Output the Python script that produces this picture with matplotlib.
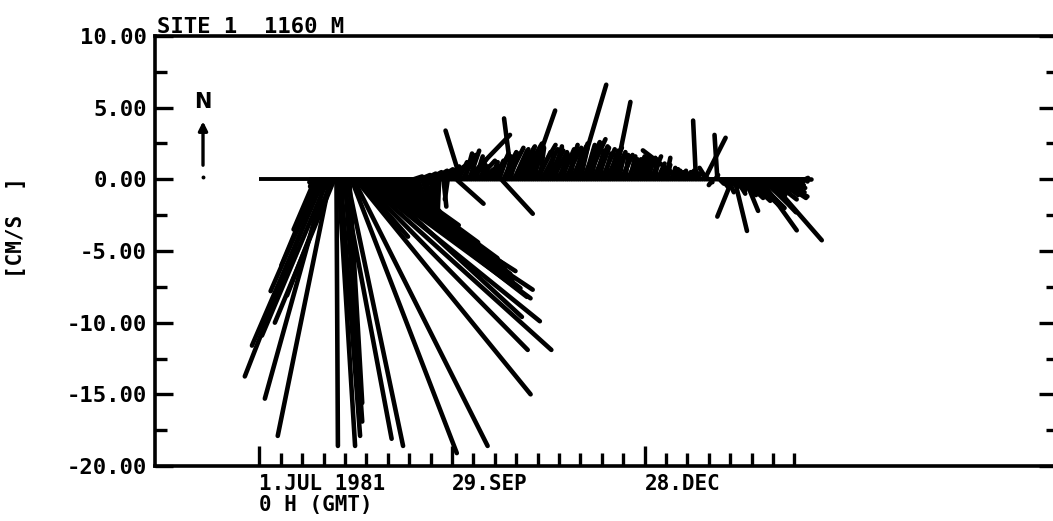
import numpy as np
import matplotlib
matplotlib.use("Agg")
import matplotlib.pyplot as plt
from matplotlib.collections import LineCollection
from matplotlib.ticker import FixedLocator, FixedFormatter, MultipleLocator

# Daily current vectors (cm/s), day 0 = 1 Jul 1981 0 H GMT
day = np.arange(258)

u_east = [
    0.0, 0.0, 0.0, 0.0, 0.0, 0.0, 0.0, 0.0, 0.0, 0.0,
    0.0, 0.0, 0.0, 0.0, 0.0, 0.0, 0.0, 0.0, 0.0, 0.0,
    0.0, 0.0, 0.0, 0.0, -0.1, -0.2, -1.5, -2.5, -3.4, -5.35,
    -5.0, -4.25, -4.6, -3.65, -3.15, -4.15, 0.1, 1.15, 1.35, 3.4,
    1.2, 3.9, 0.9, 7.35, 9.35, 12.2, 3.5, 11.7, 13.2, 12.25,
    11.6, 11.3, 10.1, 10.4, 10.6, 10.0, 9.3, 8.6, 9.0, 8.7,
    8.2, 7.5, 6.0, 4.5, 3.0, 2.2, 1.5, 2.0, 1.2, 1.5,
    0.8, 1.3, 0.6, 0.9, 0.5, 0.7, 0.6, 0.8, 0.4, 0.9,
    0.3, 1.0, 0.1, 1.1, -0.1, 1.2, 0.2, 1.3, -0.2, 1.2,
    0.5, 1.0, 1.9, 0.6, -1.05, 0.8, 0.5, 3.0, 0.7, 0.3,
    0.9, 0.5, 1.2, 0.4, 0.8, 0.3, 0.6, 0.9, 0.5, 1.0,
    0.6, 0.8, 0.5, 2.2, 0.9, 0.4, 1.1, 0.6, -0.55, 0.9,
    1.3, 0.7, 1.5, 0.8, 1.2, 0.5, 1.0, 1.67, 0.6, 1.4,
    0.9, 0.3, 1.1, 0.7, 1.2, 0.4, 0.8, 1.0, 0.5, 1.3,
    0.6, 0.9, 0.3, 1.1, 0.7, 0.4, 1.0, 0.6, 0.8, 1.95,
    0.5, 1.2, 0.7, 1.3, 0.9, 0.4, 1.0, 0.6, 0.8, 0.3,
    0.9, 0.5, 1.1, 0.7, 0.4, 0.9, 1.1, 0.6, 0.3, 0.8,
    0.5, 0.2, 0.7, 0.4, 0.9, 0.3, 0.6, 0.2, 0.5, 0.1,
    0.4, 0.6, 0.2, 0.7, 0.4, 0.1, 0.5, 0.3, 0.6, 0.2,
    0.3, 0.1, 0.5, 0.2, 0.4, 0.1, 0.3, -2.66, 0.2, 0.4,
    0.1, 0.3, 0.2, -0.2, -0.2, 0.1, -0.3, 0.2, 1.47, -0.5,
    -0.4, 0.1, -0.3, 0.2, -0.2, 0.3, 0.5, 0.2, 0.8, 0.4,
    1.0, -1.05, 0.87, 0.6, 1.2, 0.3, 1.4, 0.9, 1.6, 0.8,
    1.9, 1.2, 2.0, 1.4, 2.55, 1.7, 2.2, 1.3, 3.7, 1.8,
    2.4, 1.5, 2.0, 1.1, 1.6, 1.0, 0.7, 1.2, 0.5, 0.8,
    0.3, 0.5, 0.2, 0.3, 0.1, 0.2, 0.0, 0.1,
]

v_north = [
    0.0, 0.0, 0.0, 0.0, 0.0, 0.0, 0.0, 0.0, 0.0, 0.0,
    0.0, 0.0, 0.0, 0.0, 0.0, 0.0, 0.0, 0.0, 0.0, 0.0,
    0.0, 0.0, 0.0, 0.0, -0.2, -0.5, -3.5, -6.0, -7.8, -13.75,
    -11.6, -15.3, -10.9, -17.9, -8.1, -10.0, -18.6, -18.6, -17.9, -18.1,
    -16.9, -18.6, -15.6, -19.1, -18.6, -15.0, -4.0, -11.9, -11.9, -9.9,
    -7.7, -8.3, -6.4, -9.6, -8.2, -7.6, -6.9, -6.2, -7.0, -6.6,
    -6.0, -5.5, -4.4, -3.2, -2.2, -2.3, -2.0, -2.4, -1.8, -2.2,
    -1.5, -2.2, 0.2, -2.0, -1.4, 0.3, -1.8, 0.4, -2.1, 0.5,
    -2.3, 0.6, -2.2, 0.7, -2.3, 0.8, -1.9, 0.9, -1.4, 1.0,
    0.9, 1.1, -1.7, 1.2, 3.4, 1.5, 1.8, 3.1, 2.0, 1.7,
    1.4, 1.6, 1.3, 1.0, 0.7, 0.9, 0.5, 1.0, 1.2, 1.5,
    1.3, 1.8, 1.4, -2.4, 1.9, 1.6, 2.2, 1.8, 4.25, 2.0,
    2.3, 2.1, 2.5, 2.2, 2.0, 1.7, 2.3, 4.8, 2.0, 2.4,
    1.9, 2.2, 2.1, 1.6, 2.0, 1.8, 2.2, 1.9, 2.3, 2.0,
    1.7, 2.1, 1.8, 2.2, 2.4, 1.9, 2.3, 2.0, 2.5, 6.6,
    2.2, 2.6, 2.4, 2.8, 2.5, 2.1, 2.3, 2.0, 2.2, 1.9,
    2.1, 1.8, 2.2, 2.0, 1.7, 1.9, 5.4, 1.8, 1.5, 1.7,
    1.6, 1.7, 1.4, 1.6, 1.5, 1.3, 1.6, 1.4, 1.5, 1.2,
    1.5, 1.5, 1.3, 1.6, 1.2, 1.4, 1.1, 0.9, 1.0, 0.8,
    1.5, 0.9, 0.7, 0.8, 0.6, 0.7, 0.5, 2.02, 0.6, 0.5,
    0.4, 0.6, 0.3, 0.5, 4.1, 0.4, 0.6, 0.2, 2.9, 0.8,
    0.3, -0.2, -0.4, 0.3, 3.1, -0.3, -0.6, -0.2, -0.5, -0.9,
    -0.7, -2.6, -3.6, -1.0, -1.1, -0.8, -1.3, -2.2, -1.5, -0.9,
    -1.8, -1.2, -2.0, -1.7, -3.56, -1.6, -2.3, -1.1, -4.25, -1.4,
    -1.2, -1.0, -1.3, -0.7, -0.9, -1.1, -0.5, -0.6, -0.3, -0.4,
    -0.2, -0.1, -0.2, 0.0, -0.1, 0.1, -0.1, 0.0,
]

xtick_days = list(range(0, 251, 10))
xmajor_days = [0, 90, 180]
xmajor_labels = ["1.JUL 1981\n0 H (GMT)", "29.SEP", "28.DEC"]
ytick_values = [10, 5, 0, -5, -10, -15, -20]
ytick_labels = ["10.00", "5.00", "0.00", "-5.00", "-10.00", "-15.00", "-20.00"]

plt.rcParams["font.family"] = ["DejaVu Sans Mono"]
plt.rcParams["font.weight"] = "bold"

W, H = 1053, 521
fig = plt.figure(figsize=(W / 100, H / 100), dpi=100)
left_px, right_px, top_px, bottom_px = 155, 1054, 36, 466
ax = fig.add_axes([left_px / W, 1 - bottom_px / H,
                   (right_px - left_px) / W, (bottom_px - top_px) / H])
ax.set_xlim(-48.8, 371.3)
ax.set_ylim(-20, 10)

# equal pixel scale for both vector components
fig.canvas.draw()
bbox = ax.get_window_extent()
px_per_day = bbox.width / (ax.get_xlim()[1] - ax.get_xlim()[0])
px_per_unit = bbox.height / (ax.get_ylim()[1] - ax.get_ylim()[0])
days_per_unit = px_per_unit / px_per_day

u_arr = np.asarray(u_east)
v_arr = np.asarray(v_north)
moving = (u_arr != 0) | (v_arr != 0)
t = day[moving]
segs = np.stack([np.column_stack([t, np.zeros(t.size)]),
                 np.column_stack([t + u_arr[moving] * days_per_unit, v_arr[moving]])], axis=1)
lc = LineCollection(segs, colors="black", linewidths=3.3, capstyle="round")
ax.add_collection(lc)
ax.plot([day[0], day[-1]], [0, 0], color="black", lw=2.8, solid_capstyle="butt")

# spines
for side in ("left", "top", "bottom"):
    ax.spines[side].set_linewidth(2.6)
ax.spines["right"].set_visible(False)

# x ticks
ax.xaxis.set_major_locator(FixedLocator(xmajor_days))
ax.xaxis.set_major_formatter(FixedFormatter(xmajor_labels))
ax.xaxis.set_minor_locator(FixedLocator([d for d in xtick_days if d not in xmajor_days]))
ax.tick_params(axis="x", which="major", direction="in", length=14.5, width=2.4,
               pad=6, labelsize=15)
ax.tick_params(axis="x", which="minor", direction="in", length=9.5, width=2.4)
for lbl in ax.get_xticklabels():
    lbl.set_horizontalalignment("left")
    lbl.set_multialignment("left")
    lbl.set_fontweight("bold")
    lbl.set_linespacing(1.05)

# y ticks
ax.yaxis.set_major_locator(FixedLocator(ytick_values))
ax.yaxis.set_major_formatter(FixedFormatter(ytick_labels))
ax.yaxis.set_minor_locator(MultipleLocator(2.5))
ax.tick_params(axis="y", which="major", direction="in", length=13, width=2.4,
               pad=6, labelsize=16)
ax.tick_params(axis="y", which="minor", direction="in", length=8.5, width=2.4)
for lbl in ax.get_yticklabels():
    lbl.set_fontweight("bold")

sec = ax.secondary_yaxis("right")
sec.yaxis.set_major_locator(FixedLocator(ytick_values))
sec.yaxis.set_minor_locator(MultipleLocator(2.5))
sec.tick_params(which="major", direction="in", length=11, width=2.4, labelright=False)
sec.tick_params(which="minor", direction="in", length=5.8, width=2.4)
sec.spines["right"].set_visible(False)

# title and units
ax.text(0.002, 1.0 + 3 / (bottom_px - top_px), "SITE 1  1160 M", transform=ax.transAxes,
        ha="left", va="baseline", fontsize=16, fontweight="bold")
fig.text(16 / W, 1 - 227 / H, "[CM/S  ]", rotation=90, ha="center", va="center",
         fontsize=15, fontweight="bold")

# north indicator
ax.annotate("", xy=(0.0534, 0.808), xytext=(0.0534, 0.693), xycoords="axes fraction",
            arrowprops=dict(arrowstyle="-|>", color="black", lw=2.4, mutation_scale=13))
ax.plot([0.0534], [0.671], marker="o", ms=1.8, color="black", transform=ax.transAxes)
ax.text(0.0534, 0.846, "N", transform=ax.transAxes, ha="center", va="center",
        fontsize=15, fontweight="bold", family="DejaVu Sans")

fig.savefig("out.png", dpi=100)
